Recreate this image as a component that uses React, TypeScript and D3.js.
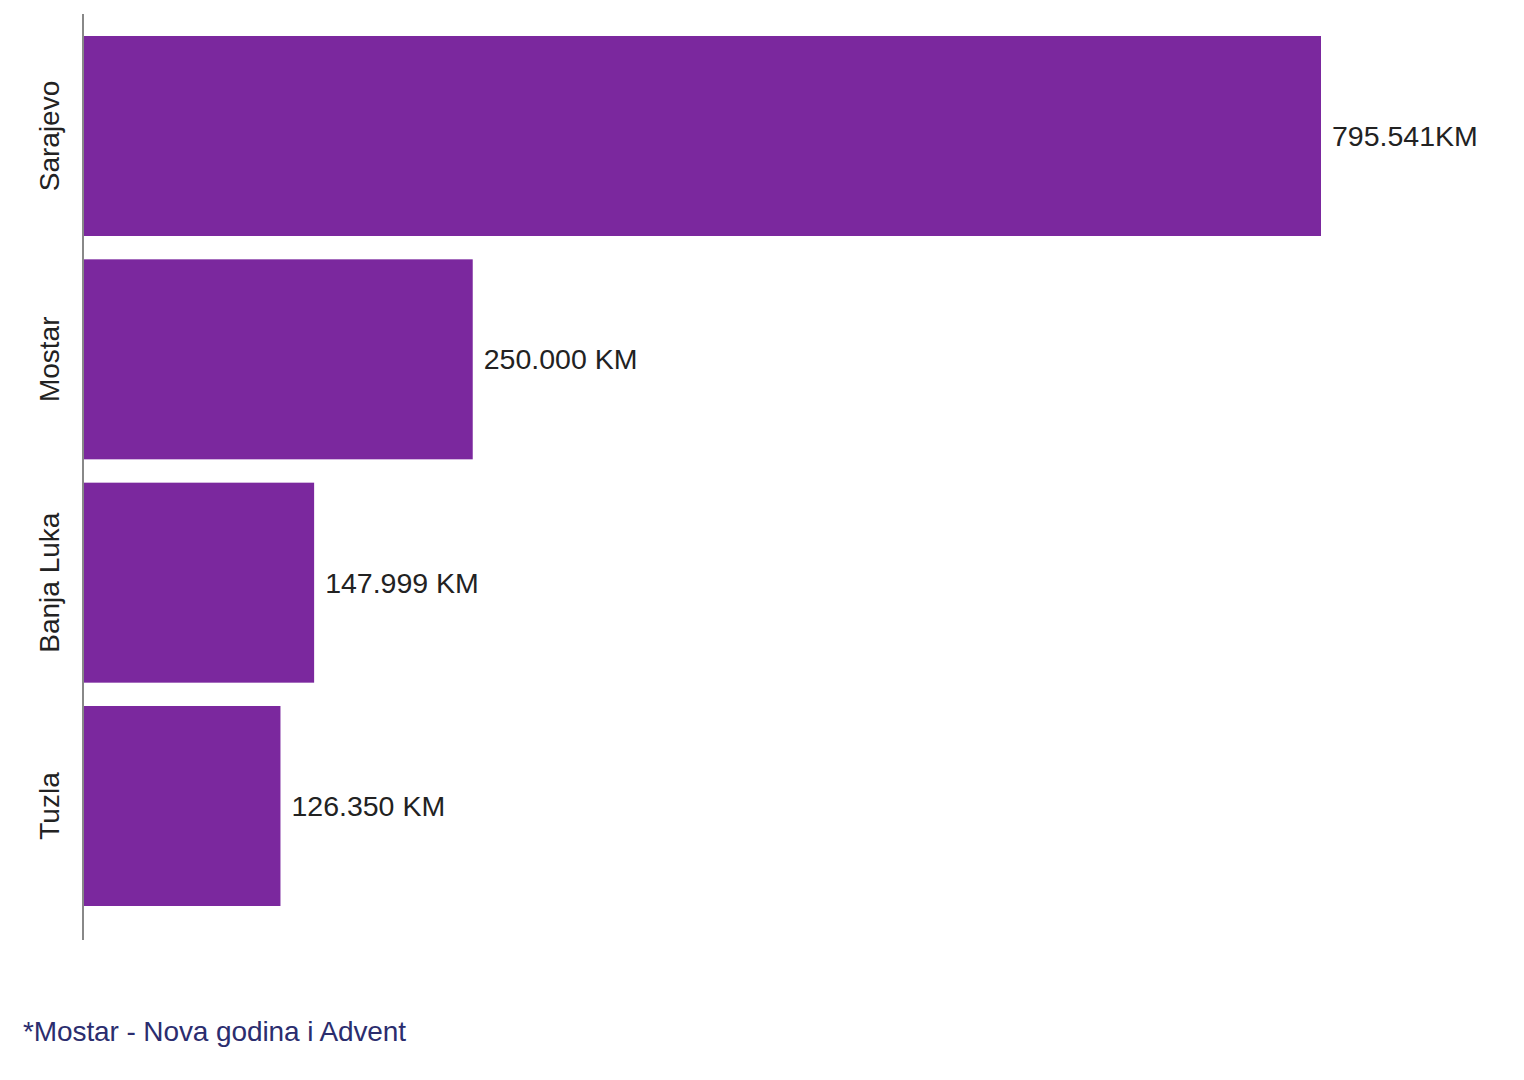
import React from "react";
import * as d3 from "d3";

const categories = ["Sarajevo", "Mostar", "Banja Luka", "Tuzla"];
const values = [795541, 250000, 147999, 126350];
const valueLabels = ["795.541KM", "250.000 KM", "147.999 KM", "126.350 KM"];
const footnote = "*Mostar - Nova godina i Advent";

const W = 1524;
const H = 1080;
const FONT = "'Liberation Sans', Arial, sans-serif";

export default function App() {
  const x = d3.scaleLinear().domain([0, 795541]).range([84, 1321]);
  const y = d3
    .scaleBand<string>()
    .domain(categories)
    .range([14, 928])
    .paddingInner(0.1045)
    .paddingOuter(0.0985);

  return (
    <svg
      width={W}
      height={H}
      style={{ position: "absolute", left: 0, top: 0, background: "#fff" }}
    >
      <rect x={0} y={0} width={W} height={H} fill="#fff" />
      {categories.map((c, i) => {
        const yy = y(c)!;
        const bw = y.bandwidth();
        return (
          <g key={c}>
            <rect x={x(0)} y={yy} width={x(values[i]) - x(0)} height={bw} fill="#7B289E" />
            <text
              x={x(values[i]) + 11}
              y={yy + bw / 2}
              dy="0.35em"
              fontFamily={FONT}
              fontSize={28.5}
              fill="#222"
            >
              {valueLabels[i]}
            </text>
            <text
              transform={`translate(59, ${yy + bw / 2}) rotate(-90)`}
              textAnchor="middle"
              fontFamily={FONT}
              fontSize={28}
              fill="#222"
            >
              {c}
            </text>
          </g>
        );
      })}
      <line x1={83} x2={83} y1={14} y2={940} stroke="#888" strokeWidth={2} />
      <text
        x={23}
        y={1041}
        fontFamily={FONT}
        fontSize={28}
        letterSpacing={-0.1}
        fill="#2b2d6e"
      >
        {footnote}
      </text>
    </svg>
  );
}
